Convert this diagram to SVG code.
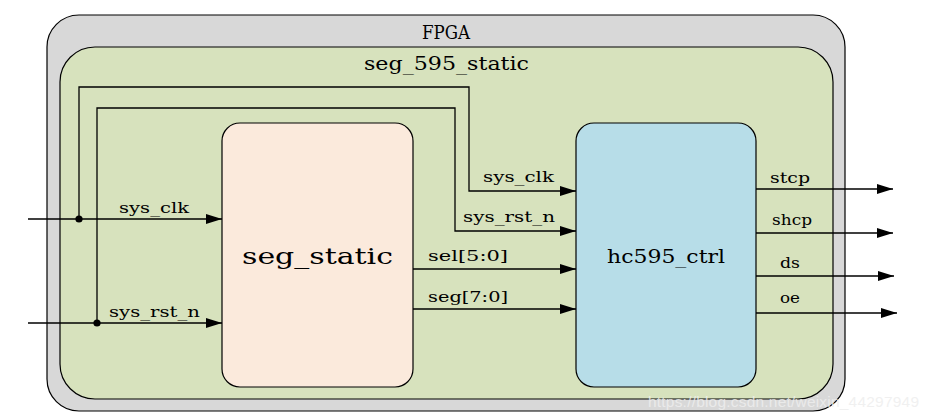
<svg xmlns="http://www.w3.org/2000/svg" width="929" height="420" viewBox="0 0 929 420">
<style>
.t{font-family:"DejaVu Serif","Liberation Serif",serif;fill:#000}
.lbl{font-size:15.5px}
.w{fill:none;stroke:#000;stroke-width:1.3}
.box{stroke:#000;stroke-width:1.2}
</style>
<defs>
<marker id="ah" markerUnits="userSpaceOnUse" markerWidth="17" markerHeight="11" refX="16" refY="5" orient="auto">
<path d="M0,0 L16,5 L0,10 z" fill="#000"/>
</marker>
</defs>
<rect width="929" height="420" fill="#fff"/>
<g id="fpga">
<rect class="box" x="47" y="15" width="798" height="396" rx="32" ry="32" fill="#d8d8d8"/>
<text class="t" x="446" y="39" font-size="18" text-anchor="middle" textLength="48" lengthAdjust="spacingAndGlyphs">FPGA</text>
</g>
<g id="seg_595_static">
<rect class="box" x="60" y="47" width="773" height="352" rx="35" ry="35" fill="#d7e2bd"/>
<text class="t" x="446.5" y="70" font-size="19" text-anchor="middle" textLength="165" lengthAdjust="spacingAndGlyphs">seg_595_static</text>
</g>
<g id="seg_static">
<rect class="box" x="222" y="123" width="191" height="264" rx="18" ry="18" fill="#fbeadc"/>
<text class="t" x="317.5" y="264" font-size="23" text-anchor="middle" textLength="151" lengthAdjust="spacingAndGlyphs">seg_static</text>
</g>
<g id="hc595_ctrl">
<rect class="box" x="576" y="123" width="180" height="264" rx="18" ry="18" fill="#b7dde8"/>
<text class="t" x="666" y="263" font-size="19" text-anchor="middle" textLength="118" lengthAdjust="spacingAndGlyphs">hc595_ctrl</text>
</g>
<g id="connectors">
<path class="w" d="M28,219 H222" marker-end="url(#ah)"/>
<path class="w" d="M28,323 H222" marker-end="url(#ah)"/>
<path class="w" d="M79,219 V87 H469 V191 H576" marker-end="url(#ah)"/>
<path class="w" d="M97,323 V108 H455 V231 H576" marker-end="url(#ah)"/>
<path class="w" d="M413,269 H576" marker-end="url(#ah)"/>
<path class="w" d="M413,309 H576" marker-end="url(#ah)"/>
<path class="w" d="M756,189 H893" marker-end="url(#ah)"/>
<path class="w" d="M756,233 H893" marker-end="url(#ah)"/>
<path class="w" d="M756,276 H894" marker-end="url(#ah)"/>
<path class="w" d="M756,313 H897" marker-end="url(#ah)"/>
<circle cx="79" cy="219" r="3.6" fill="#000"/>
<circle cx="97" cy="323" r="3.6" fill="#000"/>
<text class="t lbl" x="119" y="213" textLength="70" lengthAdjust="spacingAndGlyphs">sys_clk</text>
<text class="t lbl" x="109" y="317" textLength="91" lengthAdjust="spacingAndGlyphs">sys_rst_n</text>
<text class="t lbl" x="483" y="182" textLength="71" lengthAdjust="spacingAndGlyphs">sys_clk</text>
<text class="t lbl" x="463" y="222" textLength="92" lengthAdjust="spacingAndGlyphs">sys_rst_n</text>
<text class="t lbl" x="428" y="261" textLength="80" lengthAdjust="spacingAndGlyphs">sel[5:0]</text>
<text class="t lbl" x="428" y="302" textLength="80" lengthAdjust="spacingAndGlyphs">seg[7:0]</text>
<text class="t lbl" x="770" y="183" textLength="40" lengthAdjust="spacingAndGlyphs">stcp</text>
<text class="t lbl" x="772" y="225" textLength="40" lengthAdjust="spacingAndGlyphs">shcp</text>
<text class="t lbl" x="780" y="268" textLength="20" lengthAdjust="spacingAndGlyphs">ds</text>
<text class="t lbl" x="780" y="303" textLength="20" lengthAdjust="spacingAndGlyphs">oe</text>
</g>
<text x="648" y="407" font-family="'Liberation Sans',Arial,sans-serif" font-size="15.5" fill="#eeeeee" fill-opacity="0.85" textLength="271">https://blog.csdn.net/weixin_44297949</text>
</svg>
